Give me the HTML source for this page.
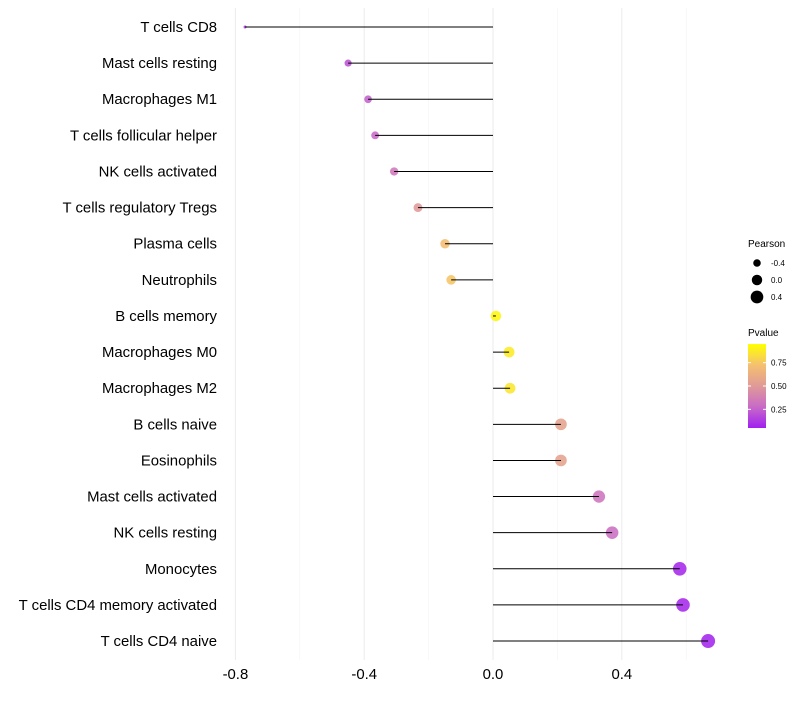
<!DOCTYPE html>
<html><head><meta charset="utf-8"><style>
body{margin:0;background:#fff;font-family:"Liberation Sans",sans-serif}
</style></head><body>
<svg id="chart" width="800" height="700" xmlns="http://www.w3.org/2000/svg"></svg>
<script>
const categories=["T cells CD8","Mast cells resting","Macrophages M1","T cells follicular helper","NK cells activated","T cells regulatory  Tregs ","Plasma cells","Neutrophils","B cells memory","Macrophages M0","Macrophages M2","B cells naive","Eosinophils","Mast cells activated","NK cells resting","Monocytes","T cells CD4 memory activated","T cells CD4 naive"];
const pearson=[-0.77,-0.45,-0.388,-0.366,-0.307,-0.233,-0.149,-0.13,0.009,0.05,0.053,0.211,0.211,0.329,0.37,0.58,0.59,0.668];
const pvalue=[0.08,0.17,0.22,0.25,0.32,0.5,0.74,0.77,0.97,0.92,0.9,0.56,0.56,0.3,0.28,0.03,0.03,0.02];
const xTicks=[-0.8,-0.4,0.0,0.4];
const xTickLabels=["-0.8","-0.4","0.0","0.4"];
const minorTicks=[-0.6,-0.2,0.2,0.6];
const sizeLegend=[-0.4,0.0,0.4];
const pTicks=[0.25,0.5,0.75];

const NS="http://www.w3.org/2000/svg";
const svg=document.getElementById('chart');
function mk(t,a,p){const e=document.createElementNS(NS,t);for(const k in a)e.setAttribute(k,a[k]);(p||svg).appendChild(e);return e;}
const x=v=>493+v*322;
const y=i=>27+i*36.12;
const rOf=v=>Math.sqrt(Math.max(1,27.3+32.5*v));
const stops=[[0,[160,32,240]],[0.25,[200,106,200]],[0.5,[224,154,152]],[0.75,[245,192,112]],[1,[255,255,0]]];
function col(p){p=Math.max(0,Math.min(1,p));for(let i=1;i<stops.length;i++){if(p<=stops[i][0]){const a=stops[i-1],b=stops[i],t=(p-a[0])/(b[0]-a[0]);return 'rgb('+a[1].map((c,j)=>Math.round(c+(b[1][j]-c)*t)).join(',')+')';}}}
const pY=p=>428-(p-0.05)/0.9*84;

minorTicks.forEach(v=>{const l=mk('line',{x1:x(v),x2:x(v),y1:8,y2:660,stroke:'#f3f3f3','stroke-width':0.6});
});
xTicks.forEach((v,i)=>{const l=mk('line',{x1:x(v),x2:x(v),y1:8,y2:660,stroke:'#ebebeb','stroke-width':1});

const t=mk('text',{x:x(v),y:679,'font-size':14.9,'text-anchor':'middle',fill:'#000'});t.textContent=xTickLabels[i];
});
categories.forEach((c,i)=>{const t=mk('text',{x:217,y:y(i)+5,'font-size':14.9,'text-anchor':'end',fill:'#000'});t.textContent=c;

t.setAttribute('xml:space','preserve');
const d=mk('circle',{cx:x(pearson[i]),cy:y(i),r:rOf(pearson[i]),fill:col(pvalue[i]),'fill-opacity':0.88});

const l=mk('line',{x1:x(0),x2:x(pearson[i]),y1:y(i),y2:y(i),stroke:'#000','stroke-width':1});
});

// legends
let t=mk('text',{x:748,y:247,'font-size':10});t.textContent='Pearson';

sizeLegend.forEach((v,i)=>{const c=mk('circle',{cx:757,cy:263+i*17,r:rOf(v),fill:'#000'});

const tt=mk('text',{x:771,y:266+i*17,'font-size':8});tt.textContent=v.toFixed(1);
});
t=mk('text',{x:748,y:336,'font-size':10});t.textContent='Pvalue';

const defs=mk('defs',{});const g=mk('linearGradient',{id:'pg',x1:0,y1:1,x2:0,y2:0},defs);
stops.forEach(s=>mk('stop',{offset:s[0],'stop-color':'rgb('+s[1].join(',')+')'},g));
const bar=mk('rect',{x:748,y:344,width:18,height:84,fill:'url(#pg)'});

pTicks.forEach(p=>{mk('line',{x1:748,x2:751,y1:pY(p),y2:pY(p),stroke:'#fff'});mk('line',{x1:763,x2:766,y1:pY(p),y2:pY(p),stroke:'#fff'});
const tt=mk('text',{x:771,y:pY(p)+3,'font-size':8});tt.textContent=p.toFixed(2);
});
</script>
</body></html>
